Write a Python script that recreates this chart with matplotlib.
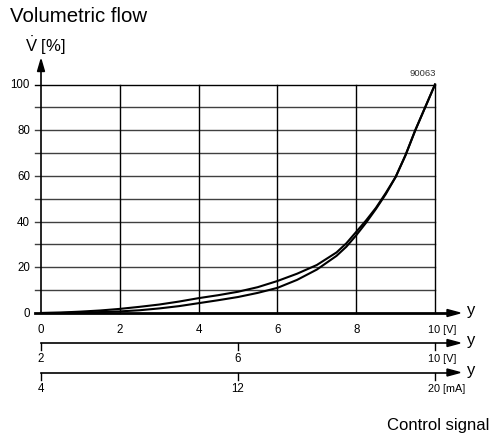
import numpy as np
import matplotlib.pyplot as plt
import matplotlib.transforms as mtransforms
from matplotlib.patches import Polygon

plt.rcParams['font.family'] = 'Liberation Sans'
plt.rcParams['mathtext.fontset'] = 'custom'
plt.rcParams['mathtext.rm'] = 'Liberation Sans'

W, H = 490, 439

# control signal 0..10 V and volumetric flow in %
signal = [0, 0.5, 1, 1.5, 2, 2.5, 3, 3.5, 4, 4.5, 5, 5.5, 6, 6.5, 7, 7.5, 7.75, 8, 8.25, 8.5, 8.75, 9, 9.25, 9.5, 9.75, 10]
flow_up = [0, 0.2, 0.6, 1.1, 1.8, 2.7, 3.7, 5.0, 6.5, 7.8, 9.3, 11.3, 14.0, 17.2, 21.0, 26.5, 30.5, 35.5, 40.5, 46.0, 52.5, 59.5, 69.0, 80.0, 90.0, 100]
flow_down = [0, 0.05, 0.2, 0.4, 0.7, 1.2, 2.0, 3.0, 4.3, 5.6, 7.0, 8.8, 11.0, 14.5, 19.0, 25.0, 29.0, 34.0, 39.5, 45.5, 52.0, 59.5, 69.0, 80.0, 90.0, 100]

grid_x = [2, 4, 6, 8, 10]
grid_y = [10, 20, 30, 40, 50, 60, 70, 80, 90, 100]
ylabels = [0, 20, 40, 60, 80, 100]
ticks_v = [0, 2, 4, 6, 8, 10]
ticks_v2 = [2, 6, 10]
ticks_ma = [4, 12, 20]


def fx(px):
    return px / W


def fy(py):
    return 1 - py / H


fig = plt.figure(figsize=(W / 100, H / 100), dpi=100)
ax = fig.add_axes([fx(41), fy(314), (435 - 41) / W, (314 - 85.5) / H])
ax.set_xlim(0, 10)
ax.set_ylim(0, 100)
ax.axis('off')

dx = 10 / 394      # data units per pixel
dy = 100 / 228.5

# grid
for g in grid_y:
    ax.plot([-6 * dx, 10], [g, g], color='k' if g == 100 else '#404040', lw=1.0, clip_on=False)
for g in grid_x:
    ax.plot([g, g], [0, 100], color='k', lw=1.0, clip_on=False)

# y axis with arrow
ax.plot([0, 0], [0, 100 + 14 * dy], color='k', lw=1.2, clip_on=False)
ax.add_patch(Polygon([[-3.5 * dx, 100 + 13 * dy], [3.5 * dx, 100 + 13 * dy], [0, 100 + 25 * dy]],
                     closed=True, color='k', clip_on=False))

# curves
ax.plot(signal, flow_up, color='k', lw=1.5, clip_on=False)
ax.plot(signal, flow_down, color='k', lw=1.5, clip_on=False)

# y tick labels
ylab_tr = mtransforms.offset_copy(ax.transData, fig=fig, x=-11, y=0, units='dots')
for v in ylabels:
    ax.text(0, v, str(v), transform=ylab_tr, ha='right', va='center', fontsize=8.3)

# three control signal scales
trans = mtransforms.blended_transform_factory(ax.transData, fig.transFigure)
left_tr = mtransforms.offset_copy(trans, fig=fig, x=-7, y=0, units='dots')
scales = [
    (ticks_v, [(v - 0) / 10 * 10 for v in ticks_v], '[V]', 314, 330, 2.0, False),
    (ticks_v2, [(v - 2) / 8 * 10 for v in ticks_v2], '[V]', 344, 359, 1.2, True),
    (ticks_ma, [(v - 4) / 16 * 10 for v in ticks_ma], '[mA]', 373.5, 389, 1.2, True),
]
for vals, pos, unit, ly, ty, lw, ticks in scales:
    ax.plot([-6 * dx if lw > 1.5 else 0, 10 + 12 * dx], [fy(ly), fy(ly)], color='k', lw=lw,
            transform=trans, clip_on=False)
    ax.add_patch(Polygon([[10 + 12 * dx, fy(ly - 3.5)], [10 + 12 * dx, fy(ly + 3.5)], [10 + 25 * dx, fy(ly)]],
                         closed=True, color='k', transform=trans, clip_on=False))
    fig.text(fx(467), fy(ly + 1.5), 'y', fontsize=12, va='baseline', ha='left')
    for v, p in zip(vals, pos):
        if ticks:
            ax.plot([p, p], [fy(ly), fy(ly + 7)], color='k', lw=1.0, transform=trans, clip_on=False)
        if v == vals[-1]:
            ax.text(p, fy(ty), f'{v} {unit}', transform=left_tr, ha='left', va='center', fontsize=7.8)
        else:
            ax.text(p, fy(ty), str(v), transform=trans, ha='center', va='center', fontsize=8.3)

# texts
fig.text(fx(10), fy(21.7), 'Volumetric flow', fontsize=14.7, va='baseline')
fig.text(fx(25), fy(52), r'$\dot{\mathrm{V}}$ [%]', fontsize=12, va='baseline')
fig.text(fx(436), fy(74), '90063', fontsize=6.8, color='#333333', ha='right', va='center')
fig.text(fx(489), fy(430), 'Control signal', fontsize=12, ha='right', va='baseline')

fig.savefig('out.png', dpi=100)
